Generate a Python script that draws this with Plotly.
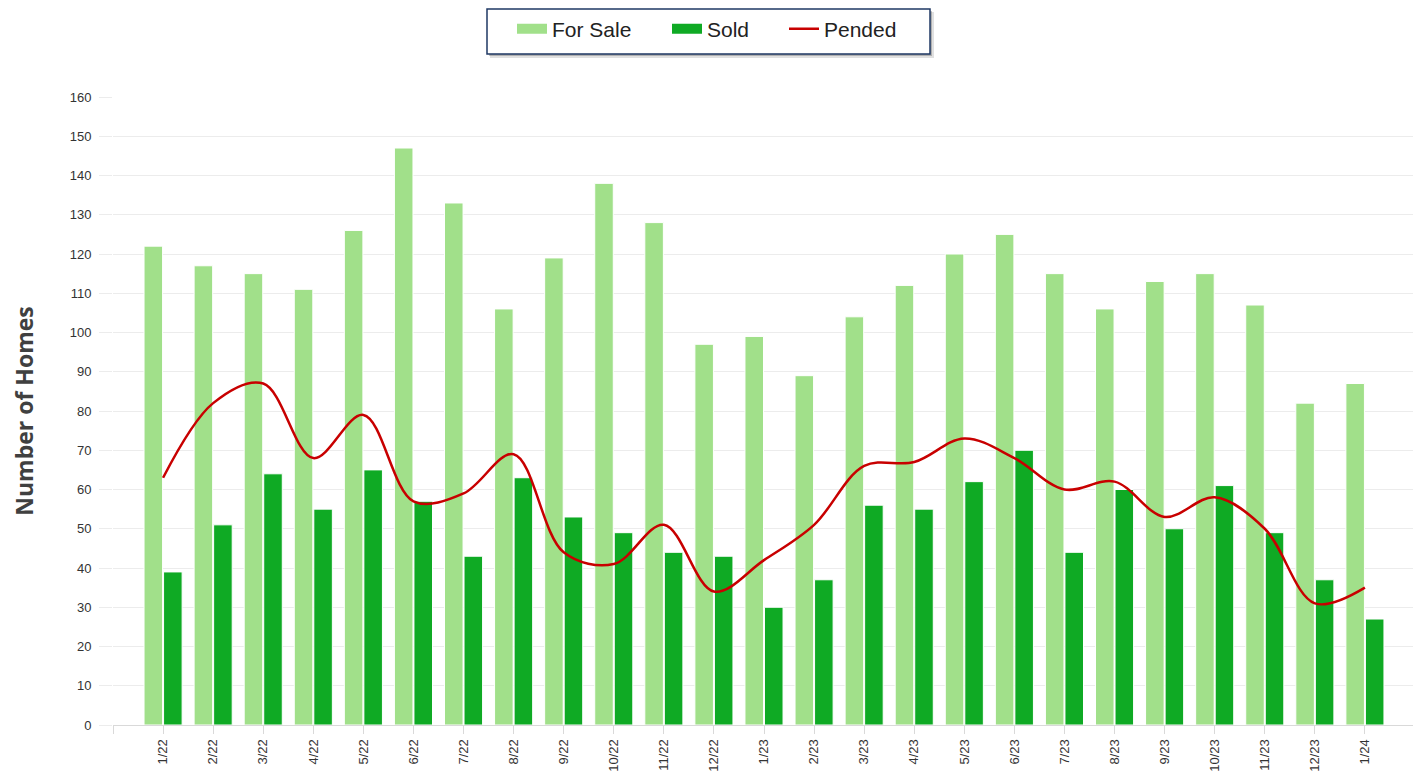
import plotly.graph_objects as go

months = ["1/22", "2/22", "3/22", "4/22", "5/22", "6/22", "7/22", "8/22", "9/22", "10/22",
          "11/22", "12/22", "1/23", "2/23", "3/23", "4/23", "5/23", "6/23", "7/23", "8/23",
          "9/23", "10/23", "11/23", "12/23", "1/24"]
for_sale = [122, 117, 115, 111, 126, 147, 133, 106, 119, 138, 128, 97, 99, 89, 104, 112,
            120, 125, 115, 106, 113, 115, 107, 82, 87]
sold = [39, 51, 64, 55, 65, 57, 43, 63, 53, 49, 44, 43, 30, 37, 56, 55, 62, 70, 44, 60,
        50, 61, 49, 37, 27]
pended = [63, 82, 87, 68, 79, 57, 59, 69, 44, 41, 51, 34, 42, 51, 66, 67, 73, 68, 60, 62,
          53, 58, 50, 31, 35]
y_ticks = list(range(0, 161, 10))

C_SALE, C_SOLD, C_PEND = "#a1e08a", "#0faa24", "#c80000"
idx = list(range(len(months)))

# the page body adds an 8px offset; target coordinates below are in reference pixels
OFF = 8
W, H = 1421 - OFF, 773 - OFF
ml, mr, mt, mb = 113 - OFF, 6, 97 - OFF, 48
pw, ph = W - ml - mr, H - mt - mb

def px(x, y):
    return (x - OFF - ml) / pw, (H - mb - (y - OFF)) / ph

fig = go.Figure()
fig.add_trace(go.Bar(x=idx, y=for_sale, name="For Sale", showlegend=False, legendgroup="fs",
                     marker=dict(color=C_SALE, line=dict(color="white", width=1))))
fig.add_trace(go.Bar(x=idx, y=sold, name="Sold", showlegend=False, legendgroup="sd",
                     marker=dict(color=C_SOLD, line=dict(color="white", width=1))))
fig.add_trace(go.Scatter(x=idx, y=pended, name="Pended", mode="lines", legend="legend3",
                         line=dict(color=C_PEND, width=2.5, shape="spline", smoothing=1.0)))
# legend swatches for the bar series (wide rectangles like the reference)
fig.add_trace(go.Scatter(x=[None], y=[None], name="For Sale", mode="lines", legendgroup="fs",
                         legend="legend", line=dict(color=C_SALE, width=14)))
fig.add_trace(go.Scatter(x=[None], y=[None], name="Sold", mode="lines", legendgroup="sd",
                         legend="legend2", line=dict(color=C_SOLD, width=14)))

# legend frame with shadow
bx0, by0 = px(487, 54)
bx1, by1 = px(930, 9)
s1x0, s1y0 = px(490, 58)
s1x1, s1y1 = px(934, 12)
s2x0, s2y0 = px(489, 56)
s2x1, s2y1 = px(932, 11)
fig.add_shape(type="rect", xref="paper", yref="paper", x0=s1x0, y0=s1y0, x1=s1x1, y1=s1y1,
              fillcolor="rgba(0,0,0,0.12)", line=dict(width=0))
fig.add_shape(type="rect", xref="paper", yref="paper", x0=s2x0, y0=s2y0, x1=s2x1, y1=s2y1,
              fillcolor="rgba(0,0,0,0.22)", line=dict(width=0))
fig.add_shape(type="rect", xref="paper", yref="paper", x0=bx0, y0=by0, x1=bx1, y1=by1,
              fillcolor="white", line=dict(color="#1f3864", width=1.5))

leg_common = dict(orientation="h", xanchor="left", yanchor="middle",
                  bgcolor="rgba(0,0,0,0)", borderwidth=0,
                  font=dict(size=21, color="#222222", family="Liberation Sans, Arial, sans-serif"))
l1x, ly = px(512, 29)
l2x, _ = px(667, 29)
l3x, _ = px(784, 29)

fig.update_layout(
    width=W, height=H,
    margin=dict(l=ml, r=mr, t=mt, b=mb, autoexpand=False),
    plot_bgcolor="white", paper_bgcolor="white",
    barmode="group", bargap=0.22, bargroupgap=0.05,
    font=dict(family="Liberation Sans, Arial, sans-serif", color="#333333"),
    legend=dict(x=l1x, y=ly, **leg_common),
    legend2=dict(x=l2x, y=ly, **leg_common),
    legend3=dict(x=l3x, y=ly, **leg_common),
    showlegend=True,
)
xt_vals = [-1] + idx + [len(months)]
xt_text = [""] + months + [""]
fig.update_xaxes(
    range=[-1, len(months)], tickmode="array", tickvals=xt_vals, ticktext=xt_text,
    tickangle=-90, tickfont=dict(size=13, color="#333333"),
    showgrid=False, showline=True, linecolor="#d9d9d9", linewidth=1,
    ticks="outside", ticklen=8, tickcolor="#d9d9d9", zeroline=False, automargin=False,
)
fig.update_yaxes(
    range=[0, 160], tickmode="array", tickvals=y_ticks,
    tickfont=dict(size=13, color="#333333"), ticklabelstandoff=5,
    showgrid=True, gridcolor="#ececec", gridwidth=1,
    ticks="outside", ticklen=13, tickcolor="#ececec", zeroline=False, automargin=False,
    title=dict(text="<b>Number of Homes</b>",
               font=dict(family="Open Sans, sans-serif", size=23, color="#404040"), standoff=50),
)

fig.write_html("out.html")
